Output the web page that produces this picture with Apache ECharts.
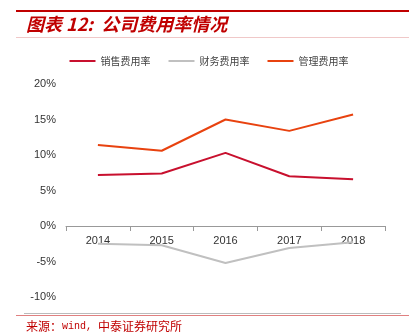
<!DOCTYPE html>
<html><head><meta charset="utf-8">
<script src="https://cdn.jsdelivr.net/npm/echarts@6/dist/echarts.min.js"></script>
<style>html,body{margin:0;padding:0;background:#fff}#c{width:418px;height:335px}</style>
</head><body><div id="c"></div>
<script>
const categories = ['2014','2015','2016','2017','2018'];
const salesRate = [7.2, 7.4, 10.3, 7.0, 6.6];
const financeRate = [-2.5, -2.7, -5.2, -3.1, -2.3];
const adminRate = [11.4, 10.6, 15.0, 13.4, 15.7];
const seriesNames = ['销售费用率','财务费用率','管理费用率'];
const yTicks = {min: -10, max: 20, interval: 5};

const chart = echarts.init(document.getElementById('c'));
const lab = {fontFamily: 'Liberation Sans, Arial, sans-serif', fontSize: 11, color: '#333'};
chart.setOption({
  animation: false,
  backgroundColor: '#fff',
  color: ['#C8102E', '#C0C0C0', '#E8420F'],
  grid: {left: 66, right: 33, top: 84, bottom: 38},
  legend: {
    top: 51, left: 'center', itemWidth: 26, itemHeight: 2, itemGap: 18,
    icon: 'rect',
    textStyle: {fontFamily: 'Noto Sans CJK SC', fontSize: 10, color: '#444'},
    data: seriesNames
  },
  xAxis: {
    type: 'category', data: categories, boundaryGap: true,
    axisLine: {onZero: true, lineStyle: {color: '#999'}},
    axisTick: {show: true, length: 5, lineStyle: {color: '#999'}},
    axisLabel: Object.assign({margin: -62}, lab),
    splitLine: {show: false}
  },
  yAxis: {
    type: 'value', min: yTicks.min, max: yTicks.max, interval: yTicks.interval,
    axisLine: {show: false}, axisTick: {show: false}, splitLine: {show: false},
    axisLabel: Object.assign({margin: 10, formatter: '{value}%'}, lab)
  },
  series: [
    {name: seriesNames[0], type: 'line', data: salesRate, symbol: 'none', lineStyle: {width: 2}, z: 3},
    {name: seriesNames[1], type: 'line', data: financeRate, symbol: 'none', lineStyle: {width: 2}, z: 1},
    {name: seriesNames[2], type: 'line', data: adminRate, symbol: 'none', lineStyle: {width: 2}, z: 3}
  ],
  graphic: [
    {type: 'rect', shape: {x: 16, y: 10, width: 393, height: 2}, style: {fill: '#C00000'}},
    {type: 'text', left: 26, top: 15, style: {text: '图表 12:  公司费用率情况', font: 'italic bold 18px "Noto Sans CJK SC"', fill: '#C00000'}},
    {type: 'rect', shape: {x: 16, y: 37, width: 393, height: 1}, style: {fill: '#F0C8C8'}},
    {type: 'rect', shape: {x: 24, y: 313, width: 377, height: 1}, style: {fill: '#BBBBBB'}},
    {type: 'rect', shape: {x: 16, y: 315, width: 393, height: 1}, style: {fill: '#E08080'}},
    {type: 'text', left: 26, top: 320, style: {
      text: '{c|来源：}{m|wind, }{c|中泰证券研究所}',
      rich: {
        c: {font: '12px "Noto Sans CJK SC"', fill: '#C00000'},
        m: {font: '10px "Liberation Mono"', fill: '#C00000'}
      }
    }}
  ]
});
</script></body></html>
